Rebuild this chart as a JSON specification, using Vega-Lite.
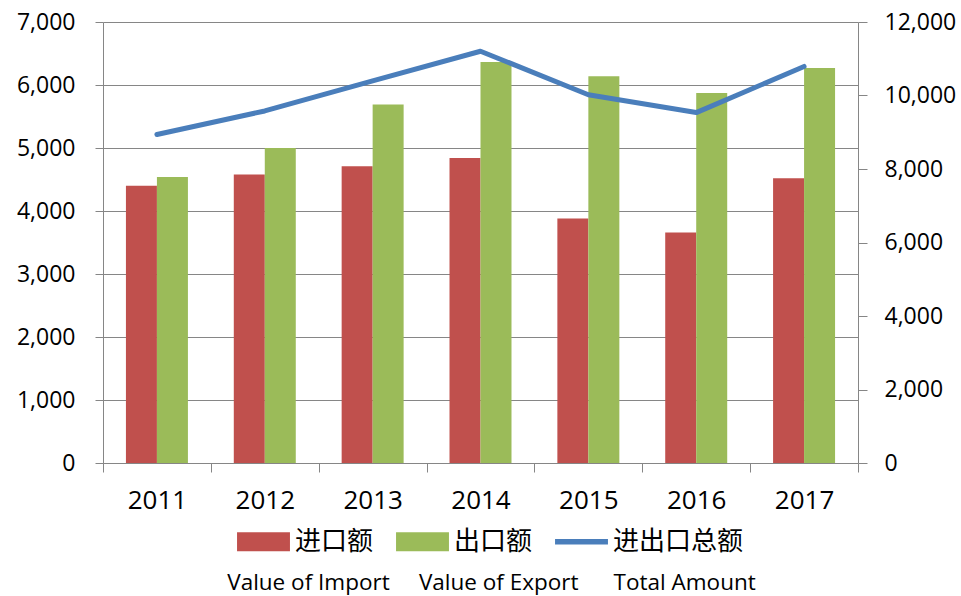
{
  "$schema": "https://vega.github.io/schema/vega-lite/v6.json",
  "width": 755,
  "height": 441,
  "autosize": {"type": "none"},
  "padding": {"left": 103, "top": 22, "right": 103, "bottom": 133},
  "background": "white",
  "config": {
    "view": {"stroke": null},
    "font": "Open Sans",
    "axis": {"labelFont": "Open Sans", "labelFontSize": 23, "labelColor": "#000000", "domainColor": "#868686", "tickColor": "#868686", "gridColor": "#868686", "titleFont": "Open Sans"}
  },
  "title": {
    "text": "Value of Import\u00a0\u00a0\u00a0\u00a0\u00a0Value of Export\u00a0\u00a0\u00a0\u00a0\u00a0\u00a0Total Amount",
    "orient": "bottom",
    "anchor": "middle",
    "font": "Open Sans",
    "fontSize": 22.5,
    "fontWeight": "normal",
    "color": "#000000",
    "offset": 17,
    "dx": 11
  },
  "datasets": {
    "bars": [
      {"year": "2011", "type": "进口额", "value": 4400},
      {"year": "2011", "type": "出口额", "value": 4540},
      {"year": "2012", "type": "进口额", "value": 4580},
      {"year": "2012", "type": "出口额", "value": 5000},
      {"year": "2013", "type": "进口额", "value": 4710},
      {"year": "2013", "type": "出口额", "value": 5690},
      {"year": "2014", "type": "进口额", "value": 4840},
      {"year": "2014", "type": "出口额", "value": 6365},
      {"year": "2015", "type": "进口额", "value": 3880},
      {"year": "2015", "type": "出口额", "value": 6140},
      {"year": "2016", "type": "进口额", "value": 3660},
      {"year": "2016", "type": "出口额", "value": 5875},
      {"year": "2017", "type": "进口额", "value": 4520},
      {"year": "2017", "type": "出口额", "value": 6270}
    ],
    "totals": [
      {"year": "2011", "total": 8940},
      {"year": "2012", "total": 9580},
      {"year": "2013", "total": 10400},
      {"year": "2014", "total": 11205},
      {"year": "2015", "total": 10020},
      {"year": "2016", "total": 9535},
      {"year": "2017", "total": 10790}
    ]
  },
  "layer": [
    {
      "data": {"name": "bars"},
      "mark": {"type": "bar"},
      "encoding": {
        "x": {
          "field": "year", "type": "nominal",
          "scale": {"paddingInner": 0, "paddingOuter": 0},
          "axis": {"title": null, "labelAngle": 0, "tickBand": "extent", "tickSize": 9, "labelPadding": 15, "domainColor": "#868686", "labelFontSize": 26}
        },
        "xOffset": {
          "field": "type", "type": "nominal",
          "scale": {"domain": ["进口额", "出口额"], "paddingInner": 0, "paddingOuter": 0.74}
        },
        "y": {
          "field": "value", "type": "quantitative",
          "scale": {"domain": [0, 7000]},
          "axis": {"title": null, "values": [0, 1000, 2000, 3000, 4000, 5000, 6000, 7000], "format": ",d", "tickSize": 8, "labelPadding": 20, "grid": true, "gridWidth": 1.2}
        },
        "color": {
          "field": "type", "type": "nominal",
          "scale": {"domain": ["进口额", "出口额", "进出口总额"], "range": ["#C0504D", "#9BBB59", "#4A7EBB"]},
          "legend": {
            "title": null,
            "orient": "none",
            "legendX": 134,
            "legendY": 493,
            "direction": "horizontal",
            "labelFont": "Noto Sans CJK SC",
            "labelFontSize": 26,
            "labelColor": "#000000",
            "labelOffset": 5,
            "columnPadding": 22,
            "symbolSize": 2800,
            "symbolType": "M-1,-0.36H1V0.36H-1Z",
            "symbolStrokeWidth": 0,
            "encode": {
              "symbols": {
                "update": {
                  "shape": {"signal": "datum.value === '进出口总额' ? 'M-1,-0.1H1V0.1H-1Z' : 'M-1,-0.36H1V0.36H-1Z'"},
                  "fill": {"signal": "scale('color', datum.value)"},
                  "strokeWidth": {"value": 0},
                  "opacity": {"value": 1}
                }
              }
            }
          }
        }
      }
    },
    {
      "data": {"name": "totals"},
      "mark": {"type": "line", "strokeWidth": 5, "strokeCap": "round", "strokeJoin": "round"},
      "encoding": {
        "x": {"field": "year", "type": "nominal"},
        "y": {
          "field": "total", "type": "quantitative",
          "scale": {"domain": [0, 12000]},
          "axis": {"title": null, "orient": "right", "values": [0, 2000, 4000, 6000, 8000, 10000, 12000], "format": ",d", "tickSize": 9, "labelPadding": 17, "grid": false}
        },
        "color": {"datum": "进出口总额"}
      }
    }
  ],
  "resolve": {"scale": {"y": "independent"}}
}
